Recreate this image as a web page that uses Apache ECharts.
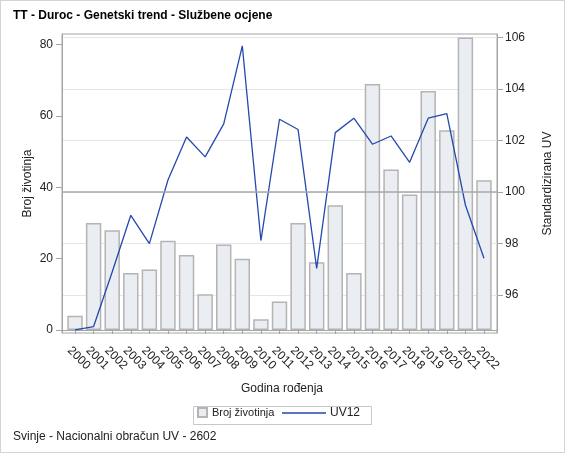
<!DOCTYPE html>
<html>
<head>
<meta charset="utf-8">
<script src="https://cdn.jsdelivr.net/npm/echarts@6/dist/echarts.min.js"></script>
<style>
  html, body { margin: 0; padding: 0; background: #fff; }
  #frame { position: absolute; left: 0; top: 0; width: 565px; height: 453px; border: 1px solid #d4d4d4; box-sizing: border-box; }
  #chart { width: 563px; height: 451px; }
</style>
</head>
<body>
<div id="frame"><div id="chart"></div></div>
<script>
const FONT = "'Liberation Sans', Arial, sans-serif";

// godina rođenja
const years = [2000, 2001, 2002, 2003, 2004, 2005, 2006, 2007, 2008, 2009, 2010, 2011,
               2012, 2013, 2014, 2015, 2016, 2017, 2018, 2019, 2020, 2021, 2022];
// broj životinja (lijeva os)
const counts = [4, 30, 28, 16, 17, 25, 21, 10, 24, 20, 3, 8,
                30, 19, 35, 16, 69, 45, 38, 67, 56, 82, 42];
// UV12 (desna os)
const uv12 = [94.65, 94.78, 96.9, 99.1, 98.0, 100.47, 102.14, 101.37, 102.65, 105.68, 98.12, 102.83,
              102.43, 97.04, 102.31, 102.87, 101.86, 102.18, 101.16, 102.87, 103.05, 99.5, 97.43];

const leftTicks = [0, 20, 40, 60, 80];
const rightTicks = [96, 98, 100, 102, 104, 106];

let chart = echarts.init(document.getElementById('chart'));

let option = {
    animation: false,
    textStyle: { fontFamily: FONT },
    title: [{
        text: 'TT - Duroc - Genetski trend - Službene ocjene',
        left: 12,
        top: 9,
        padding: 0,
        textStyle: { fontSize: 12, fontWeight: 'bold', color: '#000', fontFamily: FONT }
    }, {
        text: 'Svinje - Nacionalni obračun UV - 2602',
        left: 12,
        top: 430,
        padding: 0,
        textStyle: { fontSize: 12, fontWeight: 'normal', color: '#222', fontFamily: FONT }
    }],
    legend: [{
        data: [{ name: 'Broj životinja', icon: 'rect' }],
        left: 196,
        top: 406,
        padding: 0,
        itemWidth: 9,
        itemHeight: 9,
        textStyle: { fontSize: 11, color: '#222', fontFamily: FONT }
    }, {
        data: [{ name: 'UV12', icon: 'path://M0,0H44V1.4H0Z' }],
        left: 281,
        top: 406,
        padding: 0,
        itemWidth: 44,
        itemHeight: 10,
        textStyle: { fontSize: 12, color: '#222', fontFamily: FONT, padding: [0, 0, 0, -1] }
    }],
    graphic: [{
        type: 'rect',
        left: 190,
        top: 403,
        shape: { width: 178, height: 18 },
        style: { fill: 'none', stroke: '#c8c8c8', lineWidth: 1 },
        silent: true
    }],
    grid: {
        left: 61,
        top: 33,
        width: 435,
        height: 299,
        show: true,
        borderColor: '#a4a4a4',
        borderWidth: 1,
        backgroundColor: '#fff'
    },
    xAxis: {
        type: 'value',
        min: 1999.3,
        max: 2022.7,
        name: 'Godina rođenja',
        nameLocation: 'middle',
        nameGap: 50,
        nameMoveOverlap: false,
        nameTextStyle: { fontSize: 12, color: '#222', fontFamily: FONT, padding: [0, 0, 0, 5] },
        axisLine: { show: true, lineStyle: { color: '#a4a4a4' } },
        axisTick: { show: true, length: 4, customValues: years, lineStyle: { color: '#a4a4a4' } },
        splitLine: { show: false },
        axisLabel: {
            customValues: years,
            rotate: -45,
            margin: 10,
            verticalAlign: 'top',
            padding: [2, 0, 0, 0],
            fontSize: 12,
            color: '#222',
            fontFamily: FONT,
            formatter: (v) => String(v)
        }
    },
    yAxis: [{
        type: 'value',
        min: -0.84,
        max: 83,
        position: 'left',
        name: 'Broj životinja',
        nameLocation: 'middle',
        nameRotate: 90,
        nameGap: 28,
        nameMoveOverlap: false,
        nameTextStyle: { fontSize: 12, color: '#222', fontFamily: FONT },
        axisLine: { show: true, lineStyle: { color: '#a4a4a4' } },
        axisTick: { show: true, length: 6, customValues: leftTicks, lineStyle: { color: '#a4a4a4' } },
        splitLine: { show: false },
        axisLabel: { customValues: leftTicks, margin: 9, fontSize: 12, color: '#222', fontFamily: FONT }
    }, {
        type: 'value',
        min: 94.53,
        max: 106.14,
        splitNumber: 5,
        position: 'right',
        name: 'Standardizirana UV',
        nameLocation: 'middle',
        nameRotate: 90,
        nameGap: 45,
        nameMoveOverlap: false,
        nameTextStyle: { fontSize: 12, color: '#222', fontFamily: FONT },
        axisLine: { show: true, lineStyle: { color: '#a4a4a4' } },
        axisTick: { show: true, length: 6, customValues: rightTicks, lineStyle: { color: '#a4a4a4' } },
        splitLine: { show: true, lineStyle: { color: '#e6e6e6', width: 1 } },
        axisLabel: { customValues: rightTicks, margin: 8, fontSize: 12, color: '#222', fontFamily: FONT }
    }],
    series: [{
        name: 'Broj životinja',
        type: 'bar',
        xAxisIndex: 0,
        yAxisIndex: 0,
        barWidth: '83%',
        data: years.map((y, i) => [y, counts[i]]),
        itemStyle: { color: '#eaedf2', borderColor: '#b4b4b4', borderWidth: 1.5 },
        z: 2
    }, {
        name: 'UV12',
        type: 'line',
        xAxisIndex: 0,
        yAxisIndex: 1,
        symbol: 'none',
        data: years.map((y, i) => [y, uv12[i]]),
        lineStyle: { color: '#2449ad', width: 1.3 },
        itemStyle: { color: '#2449ad' },
        markLine: {
            silent: true,
            symbol: 'none',
            label: { show: false },
            lineStyle: { color: '#a8a8a8', type: 'solid', width: 1.5 },
            data: [{ yAxis: 100 }]
        },
        z: 3
    }]
};

chart.setOption(option);
</script>
</body>
</html>
